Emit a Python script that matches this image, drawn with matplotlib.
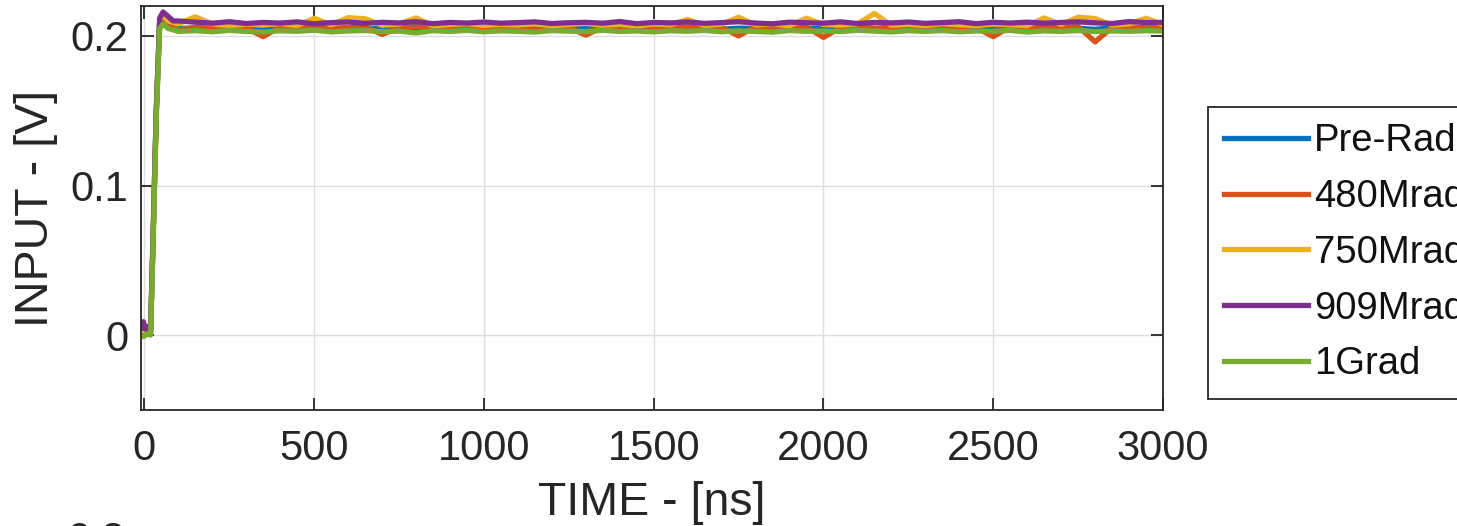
import numpy as np
import matplotlib
matplotlib.use("Agg")
import matplotlib.pyplot as plt

plt.rcParams['font.family'] = ['Liberation Sans', 'DejaVu Sans']

# tempi [ns]: fronte di salita + parte stazionaria ogni 50 ns
t_rise = [-8, -3, 3, 10, 18, 25, 35, 45, 55, 70, 85, 100]
t_flat = list(range(150, 3001, 50))
time_ns = np.array(t_rise + t_flat)

labels = ['Pre-Rad', '480Mrad', '750Mrad', '909Mrad', '1Grad']
colors = ['#0072BD', '#D95319', '#EDB120', '#7E2F8E', '#77AC30']

# fronte di salita per ogni curva
rise_prerad = [0.006, 0.004, 0.005, 0.003, 0.002, 0.060, 0.150, 0.208, 0.211, 0.208, 0.206, 0.205]
rise_480 = [0.002, 0.007, 0.003, 0.005, 0.001, 0.058, 0.148, 0.209, 0.212, 0.207, 0.206, 0.204]
rise_750 = [0.008, 0.003, 0.006, 0.002, 0.003, 0.062, 0.152, 0.211, 0.214, 0.210, 0.209, 0.208]
rise_909 = [0.005, 0.009, 0.004, 0.006, 0.002, 0.061, 0.150, 0.212, 0.216, 0.213, 0.210, 0.210]
rise_1g = [0.000, -0.001, 0.000, 0.001, 0.000, 0.055, 0.145, 0.205, 0.208, 0.205, 0.204, 0.203]

# parte stazionaria (150 -> 3000 ns)
flat_prerad = [0.2052, 0.2045, 0.2058, 0.2049, 0.2055, 0.2041, 0.2060, 0.2050, 0.2047, 0.2056,
               0.2043, 0.2054, 0.2051, 0.2046, 0.2059, 0.2048, 0.2053, 0.2044, 0.2057, 0.2050,
               0.2046, 0.2055, 0.2049, 0.2052, 0.2042, 0.2058, 0.2051, 0.2047, 0.2054, 0.2049,
               0.2056, 0.2045, 0.2052, 0.2050, 0.2043, 0.2057, 0.2048, 0.2053, 0.2046, 0.2055,
               0.2051, 0.2044, 0.2058, 0.2049, 0.2052, 0.2047, 0.2056, 0.2050, 0.2045, 0.2053,
               0.2048, 0.2057, 0.2051, 0.2044, 0.2055, 0.2049, 0.2052, 0.2050]
flat_480 = [0.2058, 0.2050, 0.2062, 0.2053, 0.1995, 0.2060, 0.2052, 0.2064, 0.2049, 0.2057,
            0.2061, 0.2010, 0.2055, 0.2063, 0.2050, 0.2058, 0.2047, 0.2062, 0.2054, 0.2059,
            0.2051, 0.2063, 0.2056, 0.2005, 0.2060, 0.2053, 0.2065, 0.2049, 0.2057, 0.2061,
            0.2052, 0.2058, 0.2000, 0.2062, 0.2054, 0.2047, 0.2060, 0.1990, 0.2056, 0.2063,
            0.2050, 0.2059, 0.2053, 0.2064, 0.2048, 0.2058, 0.2055, 0.1995, 0.2061, 0.2052,
            0.2060, 0.2054, 0.2063, 0.1960, 0.2057, 0.2050, 0.2062, 0.2056]
flat_750 = [0.2128, 0.2080, 0.2070, 0.2078, 0.2072, 0.2083, 0.2069, 0.2118, 0.2074, 0.2122,
            0.2115, 0.2071, 0.2079, 0.2120, 0.2068, 0.2076, 0.2082, 0.2070, 0.2077, 0.2073,
            0.2081, 0.2069, 0.2076, 0.2084, 0.2071, 0.2078, 0.2067, 0.2080, 0.2074, 0.2110,
            0.2070, 0.2079, 0.2125, 0.2073, 0.2081, 0.2068, 0.2118, 0.2076, 0.2072, 0.2080,
            0.2150, 0.2071, 0.2078, 0.2069, 0.2083, 0.2074, 0.2070, 0.2079, 0.2075, 0.2068,
            0.2120, 0.2077, 0.2125, 0.2116, 0.2073, 0.2080, 0.2118, 0.2076]
flat_909 = [0.2092, 0.2085, 0.2095, 0.2083, 0.2090, 0.2086, 0.2094, 0.2081, 0.2089, 0.2093,
            0.2084, 0.2091, 0.2087, 0.2095, 0.2082, 0.2090, 0.2086, 0.2093, 0.2085, 0.2089,
            0.2094, 0.2083, 0.2088, 0.2091, 0.2085, 0.2096, 0.2082, 0.2090, 0.2087, 0.2093,
            0.2084, 0.2089, 0.2095, 0.2086, 0.2081, 0.2092, 0.2088, 0.2085, 0.2094, 0.2083,
            0.2090, 0.2087, 0.2093, 0.2084, 0.2089, 0.2095, 0.2082, 0.2091, 0.2086, 0.2092,
            0.2085, 0.2090, 0.2094, 0.2087, 0.2083, 0.2096, 0.2089, 0.2091]
flat_1g = [0.2035, 0.2028, 0.2037, 0.2030, 0.2026, 0.2034, 0.2031, 0.2038, 0.2027, 0.2033,
           0.2036, 0.2029, 0.2032, 0.2020, 0.2035, 0.2030, 0.2037, 0.2028, 0.2034, 0.2031,
           0.2026, 0.2036, 0.2032, 0.2029, 0.2038, 0.2030, 0.2033, 0.2027, 0.2035, 0.2031,
           0.2037, 0.2028, 0.2034, 0.2030, 0.2025, 0.2036, 0.2031, 0.2033, 0.2029, 0.2038,
           0.2032, 0.2027, 0.2035, 0.2030, 0.2036, 0.2028, 0.2033, 0.2031, 0.2037, 0.2026,
           0.2034, 0.2030, 0.2036, 0.2029, 0.2033, 0.2031, 0.2035, 0.2032]

series = [rise_prerad + flat_prerad, rise_480 + flat_480, rise_750 + flat_750,
          rise_909 + flat_909, rise_1g + flat_1g]

fig = plt.figure(figsize=(14.57, 5.26), dpi=100)
ax = fig.add_axes([141/1457, 1 - 410/526, 1022/1457, 404/526])

for y, lab, c in zip(series, labels, colors):
    ax.plot(time_ns, y, color=c, lw=3.8, label=lab)

ax.set_xlim(-10, 3000)
ax.set_ylim(-0.05, 0.22)
ax.set_xticks([0, 500, 1000, 1500, 2000, 2500, 3000])
ax.set_yticks([0, 0.1, 0.2])
ax.set_yticklabels(['0', '0.1', '0.2'])
ax.grid(True, color='#DEDEDE', lw=1)
ax.set_axisbelow(True)

for s in ax.spines.values():
    s.set_color('#262626')
    s.set_linewidth(1.3)
ax.tick_params(direction='in', length=9, width=1.3, color='#262626',
               labelsize=30, labelcolor='#262626', top=True, right=True, pad=9)
ax.tick_params(axis='x', pad=14)

ax.set_xlabel('TIME - [ns]', fontsize=33.5, color='#262626', labelpad=8)
ax.set_ylabel('INPUT - [V]', fontsize=33.5, color='#262626')
ax.yaxis.set_label_coords(-0.081, 0.5)

leg = fig.legend(loc='upper left', bbox_to_anchor=(1208/1457, 1 - 107/526),
                 borderaxespad=0, fontsize=27.5, handlelength=2.2, handletextpad=0.15,
                 labelspacing=0.52, borderpad=0.42, fancybox=False, framealpha=1)
leg.get_frame().set_edgecolor('#262626')
leg.get_frame().set_linewidth(1.3)
for h in leg.get_lines():
    h.set_linewidth(3.8)
for txt in leg.get_texts():
    txt.set_color('#111111')

# etichetta del grafico sottostante (tagliata)
fig.text(125/1457, 1 - 521/526, '0.3', fontsize=30, color='#262626', ha='right', va='top')

fig.savefig('out.png', dpi=100)
